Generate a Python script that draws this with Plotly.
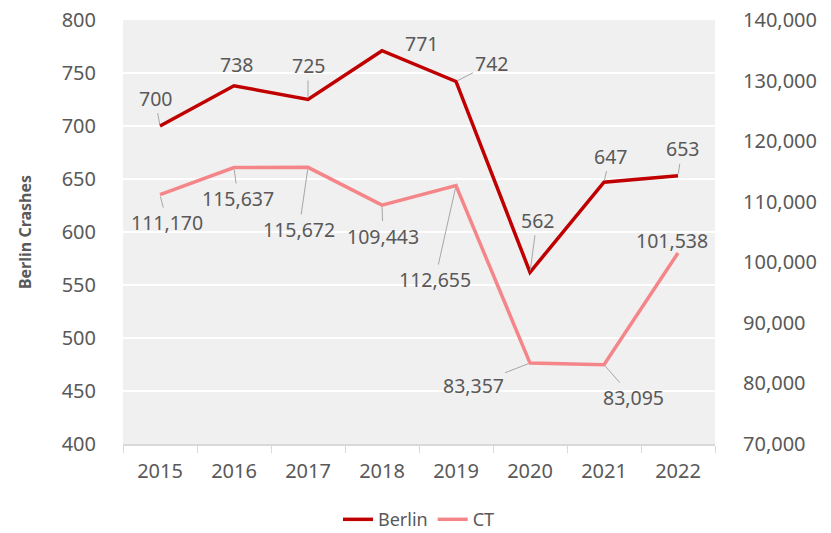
import plotly.graph_objects as go

years = ["2015", "2016", "2017", "2018", "2019", "2020", "2021", "2022"]
berlin = [700, 738, 725, 771, 742, 562, 647, 653]
ct = [111170, 115637, 115672, 109443, 112655, 83357, 83095, 101538]

# label offsets (pixels) from each point: (ax, ay, leader shown)
berlin_offsets = [(-5, -28, True), (2, -21, False), (0, -34, True), (39, -7, False),
                  (35, -18, True), (7, -52, True), (6, -26, True), (4, -27, True)]
ct_offsets = [(7, 28, True), (4, 31, True), (-9, 62, True), (1, 31, True),
              (-21, 94, True), (-57, 22, True), (29, 33, True), (-6, -12, False)]

FONT = "Noto Sans"
TXT = "#595959"
BERLIN_C = "#c00000"
CT_C = "#f4868a"

fig = go.Figure()
fig.add_trace(go.Scatter(x=years, y=berlin, name="Berlin", mode="lines",
                         line=dict(color=BERLIN_C, width=3.5)))
fig.add_trace(go.Scatter(x=years, y=ct, name="CT", mode="lines", yaxis="y2",
                         line=dict(color=CT_C, width=3.5)))

annotations = []
for series, offs, yref in ((berlin, berlin_offsets, "y"), (ct, ct_offsets, "y2")):
    for i, (v, (ax, ay, lead)) in enumerate(zip(series, offs)):
        a = dict(x=i, y=v, xref="x", yref=yref, text=f"{v:,}",
                 font=dict(family=FONT, size=19.5, color=TXT))
        if lead:
            a.update(showarrow=True, ax=ax, ay=ay, arrowhead=0, arrowwidth=1,
                     arrowcolor="#a6a6a6", standoff=2)
        else:
            a.update(showarrow=False, xshift=ax, yshift=-ay)
        annotations.append(a)

fig.update_layout(
    width=831, height=533,
    margin=dict(l=123, r=116, t=20, b=89, autoexpand=False),
    paper_bgcolor="white",
    plot_bgcolor="#f0f0f0",
    font=dict(family=FONT, color=TXT),
    showlegend=True,
    legend=dict(orientation="h", x=0.5, xanchor="center", y=-0.222, yanchor="bottom",
                font=dict(family=FONT, size=18, color=TXT), itemwidth=30),
    annotations=annotations,
    xaxis=dict(type="category", range=[-0.5, len(years) - 0.5], showgrid=False,
               showline=True, linecolor="#d9d9d9",
               linewidth=1.5, ticks="outside", tickson="boundaries", ticklen=7,
               tickcolor="#d9d9d9", tickfont=dict(family=FONT, size=20, color=TXT),
               ticklabelstandoff=8, zeroline=False),
    yaxis=dict(range=[400, 800], dtick=50, showgrid=True, gridcolor="white",
               gridwidth=2, zeroline=False, showline=False,
               tickfont=dict(family=FONT, size=20, color=TXT), ticklabelstandoff=26,
               title=dict(text="<b>Berlin Crashes</b>", standoff=26,
                          font=dict(family=FONT, size=16, color=TXT))),
    yaxis2=dict(range=[70000, 140000], dtick=10000, overlaying="y", side="right",
                showgrid=False, zeroline=False, tickformat=",",
                tickfont=dict(family=FONT, size=20, color=TXT), ticklabelstandoff=27),
)

fig.write_html("out.html")
